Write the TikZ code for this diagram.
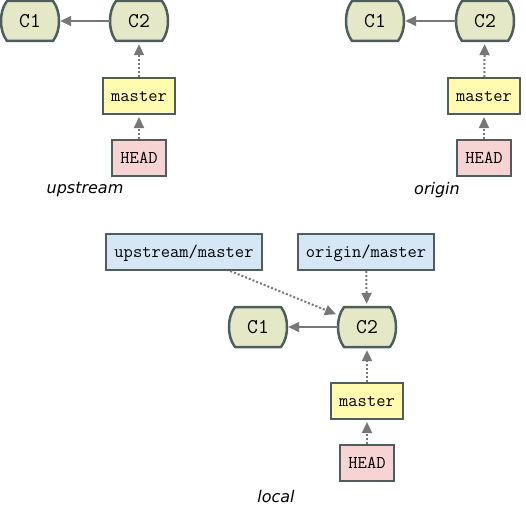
\documentclass[tikz,border=0pt]{standalone}
\usepackage{fontspec}
\newfontfamily\labelfont{DejaVu Sans}
\usetikzlibrary{arrows.meta,calc}
\definecolor{bordergray}{HTML}{4E5E5E}
\definecolor{commitfill}{HTML}{E4E8C6}
\definecolor{masterfill}{HTML}{FFFCB0}
\definecolor{headfill}{HTML}{F7D3D3}
\definecolor{remotefill}{HTML}{D5E7F5}
\definecolor{arrowgray}{HTML}{777777}
\tikzset{
  commit/.style={minimum width=58pt, minimum height=42pt, inner sep=0pt,
    font=\ttfamily\fontsize{21}{24}\selectfont},
  commitshape/.style={draw=bordergray, fill=commitfill, line width=2.5pt, line join=round},
  branch/.style={draw=bordergray, line width=2pt, inner xsep=8pt, inner ysep=0pt,
    minimum height=36pt, text height=12pt, text depth=2pt,
    font=\ttfamily\fontsize{18}{21}\selectfont},
  masterbox/.style={branch, fill=masterfill},
  headbox/.style={branch, fill=headfill},
  remotebox/.style={branch, fill=remotefill},
  repolabel/.style={font=\labelfont\itshape\fontsize{16}{19}\selectfont},
  solidarr/.style={draw=arrowgray, line width=1.5pt,
    -{Triangle[length=11pt,width=10pt]}, shorten >=1pt},
  dotarr/.style={draw=arrowgray, line width=2pt, dash pattern=on 2pt off 2pt,
    -{Triangle[length=11pt,width=10pt]}, shorten >=2pt},
}
\newcommand\commitat[4]{%
  \begin{scope}[shift={(#2,#3)}]
    \path[commitshape] (-23,-20) -- (23,-20)
      .. controls (27.5,-14) and (29,-7) .. (29,0)
      .. controls (29,7) and (27.5,14) .. (23,20)
      -- (-23,20)
      .. controls (-27.5,14) and (-29,7) .. (-29,0)
      .. controls (-29,-7) and (-27.5,-14) .. (-23,-20) -- cycle;
  \end{scope}
  \node[commit] (#1) at (#2,#3) {#4};}
\begin{document}
\begin{tikzpicture}[x=1pt,y=-1pt]
\useasboundingbox[fill=white] (0,0) rectangle (526,508);
% upstream
\commitat{uca}{30}{21}{C1}
\commitat{ucb}{139}{21}{C2}
\node[masterbox] (um) at (139,96) {master};
\node[headbox] (uh) at (139,158) {HEAD};
\node[repolabel] (ul) at (85,190) {upstream};
\draw[solidarr] (ucb) -- (uca);
\draw[dotarr] (um) -- (ucb);
\draw[dotarr] (uh) -- (um);
% origin
\commitat{oca}{375}{21}{C1}
\commitat{ocb}{485}{21}{C2}
\node[masterbox] (om) at (484,96) {master};
\node[headbox] (oh) at (484,158) {HEAD};
\node[repolabel] (ol) at (437,190) {origin};
\draw[solidarr] (ocb) -- (oca);
\draw[dotarr] (om) -- (ocb);
\draw[dotarr] (oh) -- (om);
% local
\node[remotebox] (lum) at (184,252) {upstream/master};
\node[remotebox] (lom) at (366,252) {origin/master};
\commitat{lca}{258}{327}{C1}
\commitat{lcb}{367}{327}{C2}
\node[masterbox] (lm) at (367,401) {master};
\node[headbox] (lh) at (367,463) {HEAD};
\node[repolabel] (ll) at (276,497) {local};
\draw[solidarr] (lcb) -- (lca);
\draw[dotarr] (lum) -- (lcb);
\draw[dotarr] (lom) -- (lcb);
\draw[dotarr] (lm) -- (lcb);
\draw[dotarr] (lh) -- (lm);
\end{tikzpicture}
\end{document}
